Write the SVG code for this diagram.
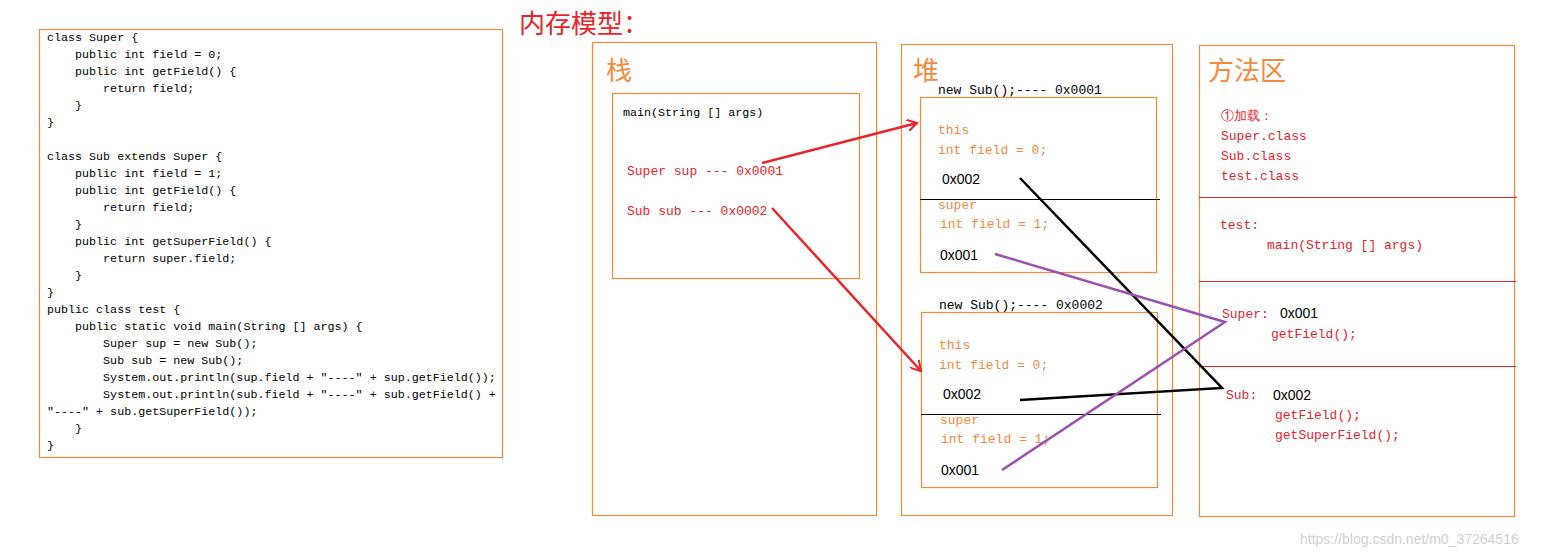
<svg xmlns="http://www.w3.org/2000/svg" width="1556" height="556" viewBox="0 0 1556 556">
<style>
.box{fill:none;stroke:#f7893b;stroke-width:1.2}
.code{font-family:"Liberation Mono",monospace;font-size:11.7px;fill:#000;white-space:pre}
.m{font-family:"Liberation Mono",monospace;font-size:13px;white-space:pre}
.o{fill:#f7893b}.r{fill:#e8242a}.k{fill:#000}
.s{font-family:"Liberation Sans",sans-serif;font-size:14px}
.big{font-family:"Noto Sans CJK SC",sans-serif;font-size:26px}
.sep{stroke:#e8242a;stroke-width:1.2}
</style>
<defs>
<marker id="ah" viewBox="0 0 12 12" refX="10" refY="6" markerWidth="12" markerHeight="12" markerUnits="userSpaceOnUse" orient="auto"><path d="M0,0 L10,6 L0,12" fill="none" stroke="#e8242a" stroke-width="2"/></marker>
</defs>
<rect width="1556" height="556" fill="#fff"/>
<g id="code">
<rect class="box" x="39.5" y="29.5" width="463" height="428"/>
<text class="code" x="47" y="41">class Super {</text>
<text class="code" x="47" y="58">    public int field = 0;</text>
<text class="code" x="47" y="75">    public int getField() {</text>
<text class="code" x="47" y="92">        return field;</text>
<text class="code" x="47" y="109">    }</text>
<text class="code" x="47" y="126">}</text>
<text class="code" x="47" y="160">class Sub extends Super {</text>
<text class="code" x="47" y="177">    public int field = 1;</text>
<text class="code" x="47" y="194">    public int getField() {</text>
<text class="code" x="47" y="211">        return field;</text>
<text class="code" x="47" y="228">    }</text>
<text class="code" x="47" y="245">    public int getSuperField() {</text>
<text class="code" x="47" y="262">        return super.field;</text>
<text class="code" x="47" y="279">    }</text>
<text class="code" x="47" y="296">}</text>
<text class="code" x="47" y="313">public class test {</text>
<text class="code" x="47" y="330">    public static void main(String [] args) {</text>
<text class="code" x="47" y="347">        Super sup = new Sub();</text>
<text class="code" x="47" y="364">        Sub sub = new Sub();</text>
<text class="code" x="47" y="381">        System.out.println(sup.field + "----" + sup.getField());</text>
<text class="code" x="47" y="398">        System.out.println(sub.field + "----" + sub.getField() +</text>
<text class="code" x="47" y="415">"----" + sub.getSuperField());</text>
<text class="code" x="47" y="432">    }</text>
<text class="code" x="47" y="449">}</text>
</g>
<text class="big r" x="519" y="33">内存模型：</text>
<g id="stack">
<rect class="box" x="592.5" y="42.5" width="284" height="473"/>
<text class="big o" x="606" y="80">栈</text>
<rect class="box" x="612.5" y="93.5" width="247" height="185"/>
<text class="code" x="623" y="116">main(String [] args)</text>
<text class="m r" x="627" y="175">Super sup --- 0x0001</text>
<text class="m r" x="627" y="215">Sub sub --- 0x0002</text>
</g>
<g id="heap">
<rect class="box" x="901.5" y="44.5" width="271" height="471"/>
<text class="big o" x="913" y="80">堆</text>
<text class="m k" x="938" y="94">new Sub();---- 0x0001</text>
<rect class="box" x="920.5" y="97.5" width="236" height="175"/>
<text class="m o" x="938" y="134">this</text>
<text class="m o" x="938" y="154">int field = 0;</text>
<text class="s k" x="942" y="184">0x002</text>
<line x1="920" y1="199.5" x2="1160" y2="199.5" stroke="#000"/>
<text class="m o" x="938" y="209">super</text>
<text class="m o" x="940" y="228">int field = 1;</text>
<text class="s k" x="940" y="260">0x001</text>
<text class="m k" x="939" y="309">new Sub();---- 0x0002</text>
<rect class="box" x="921.5" y="312.5" width="236" height="175"/>
<text class="m o" x="939" y="349">this</text>
<text class="m o" x="939" y="369">int field = 0;</text>
<text class="s k" x="943" y="399">0x002</text>
<line x1="921" y1="414.5" x2="1161" y2="414.5" stroke="#000"/>
<text class="m o" x="940" y="424">super</text>
<text class="m o" x="941" y="443">int field = 1;</text>
<text class="s k" x="941" y="475">0x001</text>
</g>
<g id="method">
<rect class="box" x="1199.5" y="45.5" width="315" height="471"/>
<text class="big o" x="1208" y="80">方法区</text>
<text class="m r" x="1221" y="120" font-family="Noto Sans CJK SC,sans-serif">①加载：</text>
<text class="m r" x="1221" y="140">Super.class</text>
<text class="m r" x="1221" y="160">Sub.class</text>
<text class="m r" x="1221" y="180">test.class</text>
<line class="sep" x1="1199" y1="197.5" x2="1517" y2="197.5"/>
<text class="m r" x="1220" y="229">test:</text>
<text class="m r" x="1267" y="249">main(String [] args)</text>
<line class="sep" x1="1199" y1="281.5" x2="1516" y2="281.5"/>
<text class="m r" x="1222" y="318">Super:</text>
<text class="s k" x="1280" y="318">0x001</text>
<text class="m r" x="1271" y="338">getField();</text>
<line class="sep" x1="1199" y1="366.5" x2="1516" y2="366.5"/>
<text class="m r" x="1226" y="399">Sub:</text>
<text class="s k" x="1273" y="400">0x002</text>
<text class="m r" x="1275" y="419">getField();</text>
<text class="m r" x="1275" y="439">getSuperField();</text>
</g>
<g id="connectors" fill="none" stroke-width="2.5">
<line x1="762" y1="163" x2="917" y2="123" stroke="#e8242a" marker-end="url(#ah)"/>
<line x1="772" y1="208" x2="921" y2="371" stroke="#e8242a" marker-end="url(#ah)"/>
<polyline points="1020,178 1222,388 1020,400" stroke="#000"/>
<polyline points="995,254 1225,322 1002,470" stroke="#9b4fb0"/>
</g>
<text x="1300" y="544" font-family="Liberation Sans,sans-serif" font-size="14" fill="#d0d0d0">https://blog.csdn.net/m0_37264516</text>
</svg>
